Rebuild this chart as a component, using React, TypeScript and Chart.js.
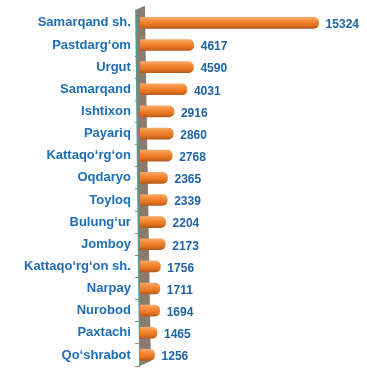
import React, { useEffect, useRef } from "react";
import { Chart, registerables } from "chart.js";

Chart.register(...registerables);

const categories = [
  "Samarqand sh.",
  "Pastdarg‘om",
  "Urgut",
  "Samarqand",
  "Ishtixon",
  "Payariq",
  "Kattaqo‘rg‘on",
  "Oqdaryo",
  "Toyloq",
  "Bulung‘ur",
  "Jomboy",
  "Kattaqo‘rg‘on sh.",
  "Narpay",
  "Nurobod",
  "Paxtachi",
  "Qo‘shrabot",
];
const values = [15324, 4617, 4590, 4031, 2916, 2860, 2768, 2365, 2339, 2204, 2173, 1756, 1711, 1694, 1465, 1256];
const xMax = 16900;

const BAR_H = 11;

const wallPlugin = {
  id: "wall",
  beforeDatasetsDraw(chart: any) {
    const { ctx, chartArea } = chart;
    const l = chartArea.left;
    const t = chartArea.top;
    const b = chartArea.bottom;
    ctx.save();
    ctx.beginPath();
    ctx.moveTo(l - 4, t - 2);
    ctx.lineTo(l + 5, t - 6);
    ctx.lineTo(l + 11, b - 5);
    ctx.lineTo(l, b);
    ctx.closePath();
    ctx.fillStyle = "#8a7b6e";
    ctx.fill();
    ctx.beginPath();
    ctx.moveTo(l - 4, t - 2);
    ctx.lineTo(l, b);
    ctx.strokeStyle = "#4f9e92";
    ctx.lineWidth = 1.5;
    ctx.stroke();
    ctx.restore();
  },
};

const labelPlugin = {
  id: "valLabels",
  afterDatasetsDraw(chart: any) {
    const { ctx } = chart;
    const meta = chart.getDatasetMeta(0);
    ctx.save();
    ctx.font = "bold 12px 'Liberation Sans', Arial, sans-serif";
    ctx.fillStyle = "#1e62a8";
    ctx.textAlign = "left";
    ctx.textBaseline = "middle";
    meta.data.forEach((el: any, i: number) => {
      ctx.fillText(String(values[i]), el.x + 7, el.y + 2);
    });
    ctx.restore();
  },
};

export default function App() {
  const ref = useRef<HTMLCanvasElement>(null);
  useEffect(() => {
    if (!ref.current) return;
    const chart = new Chart(ref.current, {
      type: "bar",
      data: {
        labels: categories,
        datasets: [
          {
            data: values,
            barThickness: BAR_H,
            borderRadius: { topRight: 5, bottomRight: 5, topLeft: 0, bottomLeft: 0 },
            borderSkipped: false,
            borderWidth: 0,
            backgroundColor: (c: any) => {
              const chart = c.chart;
              const ys = chart.scales && chart.scales.y;
              if (!ys || c.dataIndex === undefined) return "#f07f2a";
              const y = ys.getPixelForValue(c.dataIndex);
              if (!Number.isFinite(y)) return "#f07f2a";
              const g = chart.ctx.createLinearGradient(0, y - BAR_H / 2, 0, y + BAR_H / 2);
              g.addColorStop(0, "#f6a868");
              g.addColorStop(0.35, "#f48a36");
              g.addColorStop(0.7, "#e6731f");
              g.addColorStop(1, "#b45a1c");
              return g;
            },
          },
        ],
      },
      options: {
        indexAxis: "y",
        responsive: false,
        animation: false,
        layout: { padding: { top: 10, right: 30, bottom: 12, left: 20 } },
        plugins: { legend: { display: false }, tooltip: { enabled: false } },
        scales: {
          x: {
            display: false,
            min: 0,
            max: xMax,
          },
          y: {
            grid: {
              drawOnChartArea: false,
              tickLength: 5,
              color: "#8a8a8a",
              offset: true,
            },
            border: { display: false },
            ticks: {
              color: "#1f6db5",
              font: { family: "'Liberation Sans', Arial, sans-serif", size: 13, weight: "bold" },
              padding: 4,
              autoSkip: false,
            },
          },
        },
      },
      plugins: [wallPlugin, labelPlugin],
    });
    return () => chart.destroy();
  }, []);
  return (
    <div style={{ position: "fixed", left: 0, top: 0, width: 367, height: 378, background: "#fff" }}>
      <canvas ref={ref} width={367} height={378} />
    </div>
  );
}
